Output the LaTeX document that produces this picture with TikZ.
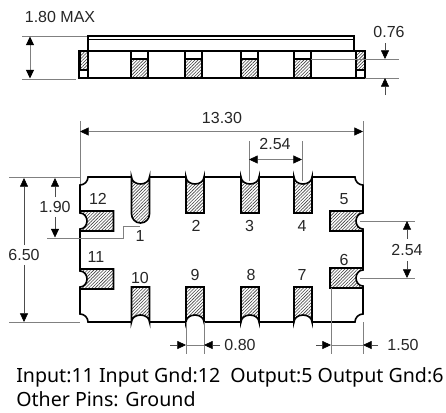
\documentclass[tikz,border=0pt]{standalone}
\usepackage{fontspec}
\setmainfont{Liberation Sans}
\newfontfamily\notefont{Noto Sans}
\usetikzlibrary{arrows.meta,patterns.meta}
\tikzset{
    body/.style = {line width=1.2pt, line join=miter},
    pin/.style = {body, pattern={Lines[angle=45,distance=1.7pt,line width=0.45pt]}, pattern color=black!75},
    ext/.style = {line width=0.5pt, black!50},
    dim/.style = {line width=0.45pt, black!70, -{Triangle[length=6.5pt,width=6pt,color=black]}},
    dimboth/.style = {line width=0.6pt, black!50, {Triangle[length=6.5pt,width=6pt,color=black]}-{Triangle[length=6.5pt,width=6pt,color=black]}},
    lab/.style = {font=\fontsize{12pt}{14pt}\selectfont, inner sep=1pt, text=black!85},
    note/.style = {font=\notefont\fontsize{14.7pt}{17pt}\selectfont, inner sep=0pt, anchor=base west}
}
\begin{document}
\begin{tikzpicture}[x=0.75pt, y=-0.75pt]
    \useasboundingbox (0,0) rectangle (446,412);

    % side view
    \draw[body] (88,51) -- (88,36) -- (354,36) -- (354,51);
    \draw[line width=0.9pt] (88,39.5) -- (354,39.5);
    \draw[body] (79,51) rectangle (365,78);
    \draw[pin] (80,51) rectangle (88,70);
    \draw[body] (80,70) -- (88,70) (88,51) -- (88,78);
    \draw[pin] (356,51) rectangle (365,70);
    \draw[body] (356,70) -- (365,70) (356,51) -- (356,78);
    \draw[pin] (131,59) rectangle (148,78);
    \draw[body] (131,51) rectangle (148,59);
    \draw[pin] (185,59) rectangle (202,78);
    \draw[body] (185,51) rectangle (202,59);
    \draw[pin] (241,59) rectangle (258,78);
    \draw[body] (241,51) rectangle (258,59);
    \draw[pin] (294,59) rectangle (311,78);
    \draw[body] (294,51) rectangle (311,59);

    % bottom view
    \draw[body] (80,213) -- (80,185) arc[start angle=90, end angle=0, radius=8] -- (131.5,177)
        (149.5,177) -- (186,177) (204,177) -- (241,177) (259,177) -- (294,177)
        (312,177) -- (355,177) arc[start angle=180, end angle=90, radius=8] -- (363,213)
        (363,229) -- (363,270) (363,286) -- (363,314)
        arc[start angle=270, end angle=180, radius=8] -- (312,322)
        (294,322) -- (259,322) (241,322) -- (204,322) (186,322) -- (150,322)
        (131.5,322) -- (88,322) arc[start angle=0, end angle=-90, radius=8] -- (80,287)
        (80,271) -- (80,229);

    \draw[pin] (131.5,177) arc[start angle=180, end angle=0, x radius=9, y radius=7] -- (149.5,214)
        arc[start angle=0, end angle=180, radius=9] -- cycle;
    \draw[pin] (186,177) arc[start angle=180, end angle=0, x radius=9, y radius=7] -- (204,213) -- (186,213) -- cycle;
    \draw[pin] (241,177) arc[start angle=180, end angle=0, x radius=9, y radius=7] -- (259,213) -- (241,213) -- cycle;
    \draw[pin] (294,177) arc[start angle=180, end angle=0, x radius=9, y radius=7] -- (312,213) -- (294,213) -- cycle;

    \draw[pin] (131.5,322) arc[start angle=180, end angle=360, x radius=9, y radius=7] -- (149.5,287) -- (131.5,287) -- cycle;
    \draw[pin] (186,322) arc[start angle=180, end angle=360, x radius=9, y radius=7] -- (204,287) -- (186,287) -- cycle;
    \draw[pin] (241,322) arc[start angle=180, end angle=360, x radius=9, y radius=7] -- (259,287) -- (241,287) -- cycle;
    \draw[pin] (294,322) arc[start angle=180, end angle=360, x radius=9, y radius=7] -- (312,287) -- (294,287) -- cycle;

    \draw[pin] (80,211) -- (80,213) arc[start angle=-90, end angle=90, x radius=7, y radius=8] -- (80,231) -- (113.5,231) -- (113.5,211) -- cycle;
    \draw[pin] (80,269) -- (80,271) arc[start angle=-90, end angle=90, x radius=7, y radius=8] -- (80,289) -- (113.5,289) -- (113.5,269) -- cycle;
    \draw[pin] (363,211) -- (363,213) arc[start angle=270, end angle=90, x radius=7, y radius=8] -- (363,231) -- (330,231) -- (330,211) -- cycle;
    \draw[pin] (363,268) -- (363,270) arc[start angle=270, end angle=90, x radius=7, y radius=8] -- (363,288) -- (330,288) -- (330,268) -- cycle;

    % pin numbers
    \node[lab] (p1) at (140,236) {1};
    \node[lab] (p2) at (196,226) {2};
    \node[lab] (p3) at (249.5,226) {3};
    \node[lab] (p4) at (302,226) {4};
    \node[lab] (p5) at (344,199) {5};
    \node[lab] (p6) at (344,260) {6};
    \node[lab] (p7) at (302,275) {7};
    \node[lab] (p8) at (251,275) {8};
    \node[lab] (p9) at (195,275) {9};
    \node[lab] (p10) at (140,278) {10};
    \node[lab] (p11) at (96,257) {11};
    \node[lab] (p12) at (98,199) {12};

    % dimension labels
    \node[lab] (d180) at (60,17) {1.80 MAX};
    \node[lab] (d076) at (389,32) {0.76};
    \node[lab] (d1330) at (222,118) {13.30};
    \node[lab] (d254a) at (275,144) {2.54};
    \node[lab, inner ysep=3pt] (d650) at (24,255) {6.50};
    \node[lab, inner ysep=3pt] (d190) at (55,207) {1.90};
    \node[lab, inner ysep=4pt] (d254b) at (407,250) {2.54};
    \node[lab] (d080) at (240,345) {0.80};
    \node[lab] (d150) at (403,345) {1.50};

    % free ends
    \coordinate (t080) at (220,345);
    \coordinate (t150) at (378,345);

    % side view dimensions
    \draw[ext] (22,36) -- (87,36) (22,79) -- (76,79);
    \draw[dimboth] (30,36.5) -- (30,78.5);
    \draw[ext] (311,59) -- (399,59) (365,78) -- (399,78);
    \draw[dim] (385,43) -- (385,59);
    \draw[dim] (385,95) -- (385,78);

    % 13.30
    \draw[ext] (80,121) -- (80,184) (363,121) -- (363,184);
    \draw[ext, {Triangle[length=6.5pt,width=6pt,color=black]}-{Triangle[length=6.5pt,width=6pt,color=black]}] (80,131.5) -- (363,131.5);

    % 2.54 on top
    \draw[ext] (249,141) -- (249,181) (302,141) -- (302,181);
    \draw[ext, {Triangle[length=6.5pt,width=6pt,color=black]}-{Triangle[length=6.5pt,width=6pt,color=black]}] (249,159.5) -- (302,159.5);

    % 6.50 and 1.90
    \draw[ext] (9,177.5) -- (80,177.5) (9,322) -- (80,322);
    \draw[dim] (d650) -- (24,178);
    \draw[dim] (d650) -- (24,322);
    \draw[dim] (d190) -- (55,178);
    \draw[dim] (d190) -- (55,237.5);
    \draw[ext] (47,238) -- (123,238) -- (123,226) -- (140,226);

    % 2.54 on the right
    \draw[ext] (360,221) -- (415,221) (360,278) -- (415,278);
    \draw[dim] (d254b) -- (407,221);
    \draw[dim] (d254b) -- (407,278);

    % 0.80 and 1.50
    \draw[ext] (186,322) -- (186,354) (204,322) -- (204,354);
    \draw[ext] (331,288) -- (331,354) (363,322) -- (363,354);
    \draw[ext] (186,345) -- (204,345) (331,345) -- (363,345);
    \draw[dim] (170,345) -- (186,345);
    \draw[dim] (t080) -- (204,345);
    \draw[dim] (316,345) -- (331,345);
    \draw[dim] (t150) -- (363,345);

    % pin list
    \node[note] (inout) at (16,382) {Input:11 Input Gnd:12\ \ Output:5 Output Gnd:6};
    \node[note] (others) at (16,406.5) {Other Pins: Ground};
\end{tikzpicture}
\end{document}
